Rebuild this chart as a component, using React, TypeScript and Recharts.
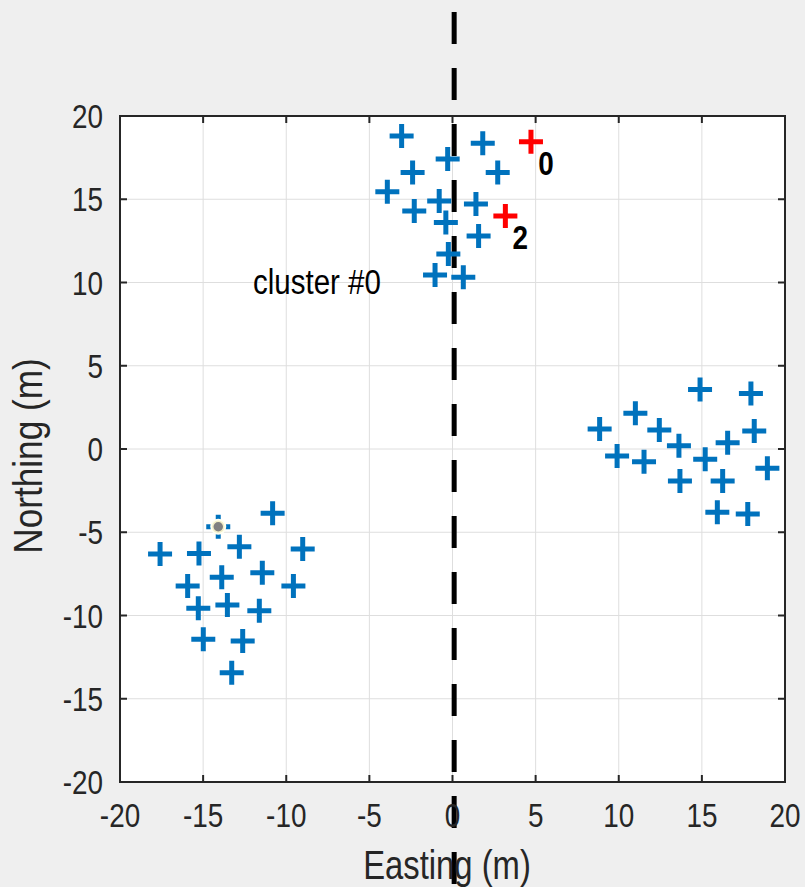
import {
  ScatterChart,
  Scatter,
  XAxis,
  YAxis,
  CartesianGrid,
  ReferenceLine,
  ReferenceArea,
} from 'recharts';

// blue plus markers (easting, northing in metres)
const blueX = [
  -3.06, -0.29, 1.82, -2.4, 2.72, -3.92, -2.3, -0.8, 1.41, -0.4, 1.57, -0.25, -1.05, 0.65,
  14.89, 17.95, 11.0, 8.85, 12.44, 18.15, 13.62, 16.55, 9.9, 11.52, 15.2, 18.94, 13.68, 16.25, 15.93, 17.76,
  -10.82, -14.09, -17.59, -15.25, -12.82, -9.01, -13.88, -11.44, -15.93, -9.57, -15.29, -13.54, -11.62, -14.99, -12.62, -13.28,
];
const blueY = [
  18.8, 17.42, 18.36, 16.6, 16.6, 15.45, 14.3, 14.9, 14.71, 13.6, 12.79, 11.71, 10.45, 10.31,
  3.58, 3.34, 2.14, 1.2, 1.14, 1.08, 0.2, 0.38, -0.42, -0.76, -0.62, -1.16, -1.92, -1.92, -3.8, -3.9,
  -3.86, -4.67, -6.31, -6.27, -5.87, -6.0, -7.71, -7.43, -8.23, -8.23, -9.57, -9.37, -9.71, -11.43, -11.53, -13.44,
];

// red markers with their labels
const redX = [4.72, 3.18];
const redY = [18.46, 13.99];
const redLabels = ['0', '2'];

// selected point (grey dot)
const selX = [-14.09];
const selY = [-4.67];

// text annotation
const noteX = [-12];
const noteY = [10];
const noteText = ['cluster #0'];

// dashed divider
const dividerX = 0.1;
const dividerY = [26.25, -26.3];

const ticks = [-20, -15, -10, -5, 0, 5, 10, 15, 20];

const blueData = blueX.map((x, i) => ({ x, y: blueY[i] }));
const redData = redX.map((x, i) => ({ x, y: redY[i], label: redLabels[i] }));
const selData = selX.map((x, i) => ({ x, y: selY[i] }));
const noteData = noteX.map((x, i) => ({ x, y: noteY[i], text: noteText[i] }));

const FONT = "'Liberation Sans', Arial, sans-serif";
const PLOT_W = 665;
const PLOT_H = 666;
const AXIS = '#262626';

// condensed text: squeeze a normal sans horizontally
const NText = (props: any) => {
  const { x, y, sx = 0.82, rotate, anchor = 'start', size, weight = 'normal', fill = AXIS, children } = props;
  const rot = rotate ? ` rotate(${rotate})` : '';
  return (
    <g transform={`translate(${x},${y})${rot} scale(${sx},1)`}>
      <text x={0} y={0} textAnchor={anchor} fontFamily={FONT} fontSize={size} fontWeight={weight} fill={fill}>
        {children}
      </text>
    </g>
  );
};

const Plus = (props: any) => {
  const { cx, cy, fill } = props;
  return (
    <path
      d={`M${cx - 12},${cy}H${cx + 12}M${cx},${cy - 12}V${cy + 12}`}
      stroke={fill}
      strokeWidth={5}
    />
  );
};

const RedPlus = (props: any) => {
  const { cx, cy, payload } = props;
  return (
    <g>
      <Plus cx={cx} cy={cy} fill="#ff0000" />
      <NText x={cx + 15} y={cy + 33} anchor="middle" size={34} weight="bold" fill="#000">
        {payload.label}
      </NText>
    </g>
  );
};

const SelDot = (props: any) => {
  const { cx, cy } = props;
  return (
    <g>
      <circle cx={cx} cy={cy} r={8} fill="#fffff2" />
      <circle cx={cx} cy={cy} r={5.5} fill="#808080" stroke="#f3efc8" strokeWidth={1.5} />
    </g>
  );
};

const Note = (props: any) => {
  const { cx, cy, payload } = props;
  return (
    <NText x={cx} y={cy + 11} size={36} fill="#000">
      {payload.text}
    </NText>
  );
};

const XTick = (props: any) => {
  const { x, y, payload } = props;
  return (
    <g>
      <line x1={x} y1={y} x2={x} y2={y - 7} stroke={AXIS} strokeWidth={2} />
      <line x1={x} y1={y - PLOT_H} x2={x} y2={y - PLOT_H + 7} stroke={AXIS} strokeWidth={2} />
      <NText x={x} y={y + 45} anchor="middle" size={34}>
        {payload.value}
      </NText>
    </g>
  );
};

const YTick = (props: any) => {
  const { x, y, payload } = props;
  return (
    <g>
      <line x1={x} y1={y} x2={x + 7} y2={y} stroke={AXIS} strokeWidth={2} />
      <line x1={x + PLOT_W} y1={y} x2={x + PLOT_W - 7} y2={y} stroke={AXIS} strokeWidth={2} />
      <NText x={x - 17} y={y + 12} anchor="end" size={34}>
        {payload.value}
      </NText>
    </g>
  );
};

const App = () => {
  return (
    <div
      style={{
        position: 'absolute',
        left: 0,
        top: 0,
        width: 805,
        height: 887,
        background: '#efefef',
        fontFamily: FONT,
      }}
    >
      <ScatterChart width={805} height={887} margin={{ top: 116, right: 20, bottom: 0, left: 0 }}>
        <CartesianGrid fill="#ffffff" stroke="#dedede" strokeWidth={1} />
        <XAxis
          type="number"
          dataKey="x"
          domain={[-20, 20]}
          ticks={ticks}
          height={105}
          tickSize={0}
          tickMargin={0}
          axisLine={false}
          tickLine={false}
          tick={(p: any) => <XTick {...p} />}
          interval={0}
          label={() => (
            <NText x={447} y={879} anchor="middle" size={40}>
              Easting (m)
            </NText>
          )}
        />
        <YAxis
          type="number"
          dataKey="y"
          domain={[-20, 20]}
          ticks={ticks}
          width={120}
          tickSize={0}
          tickMargin={0}
          axisLine={false}
          tickLine={false}
          tick={(p: any) => <YTick {...p} />}
          interval={0}
          label={() => (
            <NText x={42} y={456} rotate={-90} sx={0.88} anchor="middle" size={40}>
              Northing (m)
            </NText>
          )}
        />
        <ReferenceArea
          x1={-20}
          x2={20}
          y1={-20}
          y2={20}
          fill="none"
          fillOpacity={0}
          stroke={AXIS}
          strokeWidth={2}
          ifOverflow="visible"
        />
        <Scatter data={blueData} fill="#0072bd" shape={Plus} isAnimationActive={false} />
        <Scatter data={redData} fill="#ff0000" shape={RedPlus} isAnimationActive={false} />
        <Scatter data={selData} fill="#808080" shape={SelDot} isAnimationActive={false} />
        <Scatter data={noteData} fill="#000" shape={Note} isAnimationActive={false} />
        <ReferenceLine
          segment={[
            { x: dividerX, y: dividerY[0] },
            { x: dividerX, y: dividerY[1] },
          ]}
          stroke="#000"
          strokeWidth={5}
          strokeDasharray="32 24"
          ifOverflow="visible"
        />
      </ScatterChart>
    </div>
  );
};

export default App;
